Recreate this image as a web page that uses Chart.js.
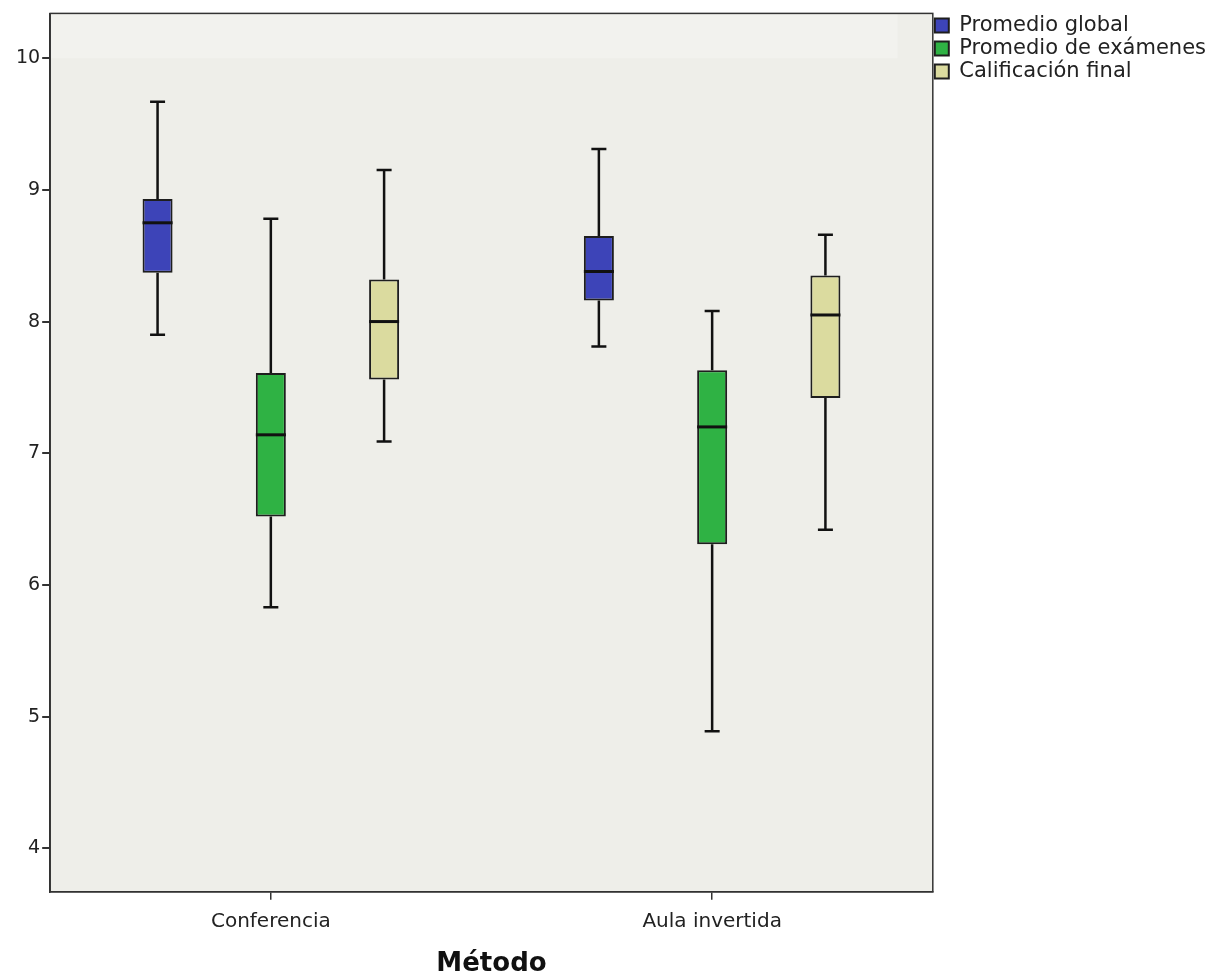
<!DOCTYPE html>
<html>
<head>
<meta charset="utf-8">
<script src="https://cdn.jsdelivr.net/npm/chart.js@4"></script>
<style>
  html, body { margin: 0; padding: 0; background: #ffffff; }
  #wrap { position: relative; width: 1218px; height: 980px; }
</style>
</head>
<body>
<div id="wrap"><canvas id="c"></canvas></div>
<script>
// ---- Data ----
const categories = ['Conferencia', 'Aula invertida'];
const seriesNames = ['Promedio global', 'Promedio de exámenes', 'Calificación final'];
const yTicks = [4, 5, 6, 7, 8, 9, 10];

const globalMin = [7.90, 7.81];
const globalQ1  = [8.37, 8.16];
const globalMed = [8.75, 8.38];
const globalQ3  = [8.93, 8.65];
const globalMax = [9.67, 9.31];

const examMin = [5.83, 4.89];
const examQ1  = [6.52, 6.31];
const examMed = [7.14, 7.20];
const examQ3  = [7.61, 7.63];
const examMax = [8.78, 8.08];

const finalMin = [7.09, 6.42];
const finalQ1  = [7.56, 7.42];
const finalMed = [8.00, 8.05];
const finalQ3  = [8.32, 8.35];
const finalMax = [9.15, 8.66];

const seriesColors = ['#3d44b8', '#2fb244', '#dbdb9f'];

const stats = [
  { min: globalMin, q1: globalQ1, med: globalMed, q3: globalQ3, max: globalMax },
  { min: examMin,   q1: examQ1,   med: examMed,   q3: examQ3,   max: examMax },
  { min: finalMin,  q1: finalQ1,  med: finalMed,  q3: finalQ3,  max: finalMax }
];

const datasets = stats.map((s, di) => ({
  label: seriesNames[di],
  data: categories.map((_, i) => [s.q1[i], s.q3[i]]),
  backgroundColor: seriesColors[di],
  borderColor: '#1e1e1e',
  borderWidth: 2,
  borderSkipped: false,
  categoryPercentage: 0.77,
  barPercentage: 0.265
}));

const boxPlotPlugin = {
  id: 'boxplot',
  beforeDraw(chart) {
    const { ctx, chartArea: a } = chart;
    const y = chart.scales.y;
    ctx.save();
    ctx.fillStyle = '#ffffff';
    ctx.fillRect(0, 0, chart.width, chart.height);
    ctx.fillStyle = '#eeeee9';
    ctx.fillRect(a.left, a.top, a.right - a.left, a.bottom - a.top);
    const yTop = y.getPixelForValue(yTicks[yTicks.length - 1]);
    ctx.fillStyle = '#f2f2ee';
    ctx.fillRect(a.left, a.top, (a.right - a.left) * 0.96, yTop - a.top);
    ctx.restore();
  },
  afterDatasetsDraw(chart) {
    const { ctx } = chart;
    const y = chart.scales.y;
    ctx.save();
    ctx.strokeStyle = '#111111';
    ctx.lineCap = 'butt';
    chart.data.datasets.forEach((ds, di) => {
      const meta = chart.getDatasetMeta(di);
      const s = stats[di];
      meta.data.forEach((bar, i) => {
        const x = bar.x;
        const w = bar.width;
        const pMin = y.getPixelForValue(s.min[i]);
        const pQ1 = y.getPixelForValue(s.q1[i]);
        const pMed = y.getPixelForValue(s.med[i]);
        const pQ3 = y.getPixelForValue(s.q3[i]);
        const pMax = y.getPixelForValue(s.max[i]);
        const cap = w * 0.25;
        ctx.lineWidth = 2.5;
        ctx.beginPath();
        ctx.moveTo(x, pQ3); ctx.lineTo(x, pMax);
        ctx.moveTo(x, pQ1); ctx.lineTo(x, pMin);
        ctx.moveTo(x - cap, pMax); ctx.lineTo(x + cap, pMax);
        ctx.moveTo(x - cap, pMin); ctx.lineTo(x + cap, pMin);
        ctx.stroke();
        ctx.lineWidth = 3;
        ctx.beginPath();
        ctx.moveTo(x - w / 2, pMed); ctx.lineTo(x + w / 2, pMed);
        ctx.stroke();
      });
    });
    ctx.restore();
  },
  afterDraw(chart) {
    const { ctx, chartArea: a } = chart;
    ctx.save();
    ctx.strokeStyle = '#333333';
    ctx.lineWidth = 1.5;
    ctx.strokeRect(a.left, a.top, a.right - a.left, a.bottom - a.top);
    ctx.restore();
  }
};

new Chart(document.getElementById('c'), {
  type: 'bar',
  data: { labels: categories, datasets: datasets },
  plugins: [boxPlotPlugin],
  options: {
    responsive: true,
    maintainAspectRatio: false,
    animation: false,
    devicePixelRatio: 1,
    layout: { padding: { top: 13, left: 14, right: 2, bottom: 0 } },
    plugins: {
      tooltip: { enabled: false },
      legend: {
        position: 'right',
        align: 'start',
        labels: {
          boxWidth: 14,
          boxHeight: 14,
          padding: 2,
          color: '#222222',
          font: { family: 'DejaVu Sans', size: 21 }
        }
      }
    },
    scales: {
      x: {
        offset: true,
        grid: { display: true, drawOnChartArea: false, drawTicks: true, tickLength: 8, offset: false, color: '#333333', lineWidth: 1.5 },
        border: { display: true, color: '#333333', width: 1.5 },
        ticks: { color: '#222222', font: { family: 'DejaVu Sans', size: 20 }, padding: 10 },
        title: { display: true, text: 'Método', color: '#111111', font: { family: 'DejaVu Sans', size: 26, weight: 'bold' }, padding: { top: 5, bottom: 0 } }
      },
      y: {
        min: 3.67,
        max: 10.34,
        afterBuildTicks: (scale) => { scale.ticks = yTicks.map(v => ({ value: v })); },
        grid: { display: true, drawOnChartArea: false, drawTicks: true, tickLength: 8, color: '#333333', lineWidth: 2 },
        border: { display: true, color: '#333333', width: 1.5 },
        ticks: { color: '#222222', font: { family: 'DejaVu Sans', size: 19 }, padding: 2 }
      }
    }
  }
});
</script>
</body>
</html>
